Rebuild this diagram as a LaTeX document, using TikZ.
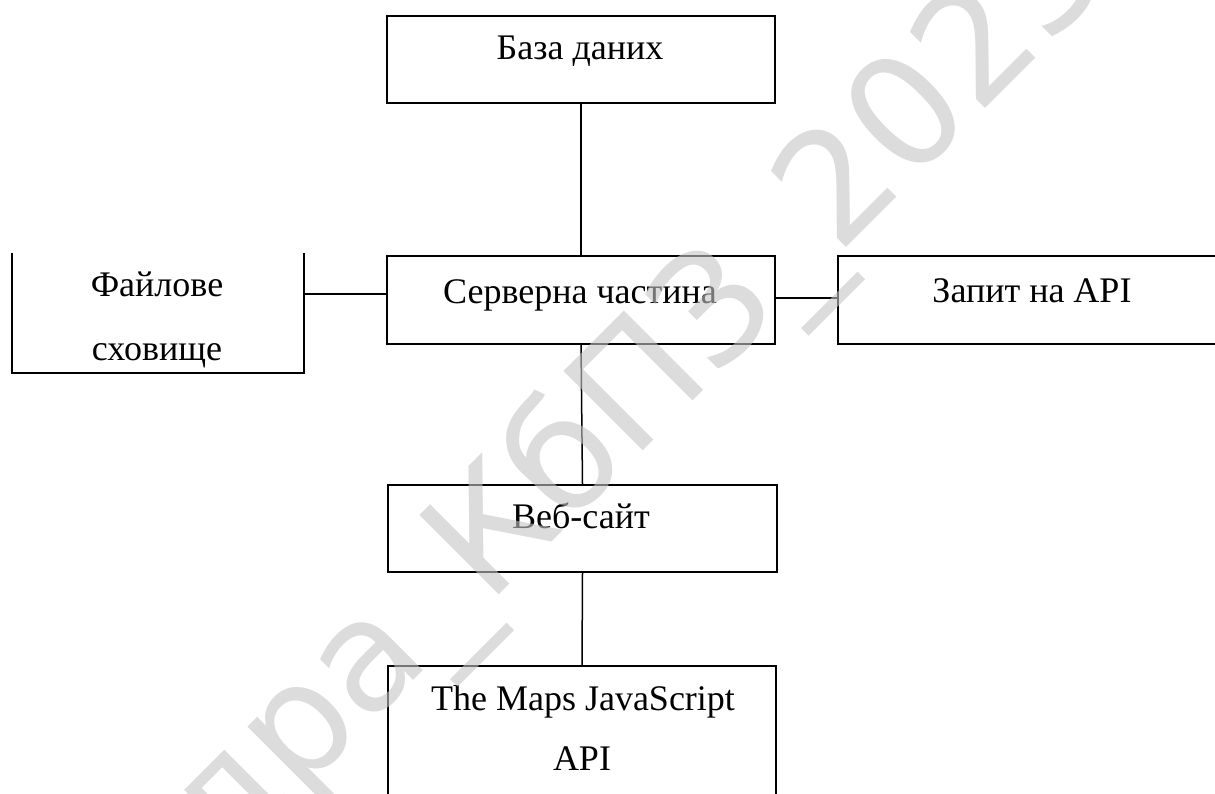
\documentclass[tikz,border=0pt]{standalone}
\usepackage{fontspec}
\setmainfont{LiberationSerif}[Extension=.ttf, UprightFont=*-Regular, Script=Cyrillic]
\newfontfamily\wmfont{DejaVu Sans}
\usetikzlibrary{calc}
\begin{document}
\begin{tikzpicture}[x=1pt, y=-1pt,
  box/.style={draw, line width=1.6pt, rectangle, inner sep=0pt},
  frame/.style={rectangle, inner sep=0pt},
  link/.style={line width=1.5pt},
  lbl/.style={font=\fontsize{36}{43}\selectfont, anchor=base, inner sep=0pt},
  wmark/.style={font=\wmfont\fontsize{154}{154}\selectfont, text=black!23,
                text opacity=0.6, rotate=45, anchor=base west, inner sep=0pt}]
\useasboundingbox (0,0) rectangle (1215,794);
\clip (0,0) rectangle (1215,794);

% boxes
\node[box, minimum width=388pt, minimum height=87pt] (db) at (581,59.5) {};
\node[box, minimum width=388pt, minimum height=88pt] (srv) at (581,300) {};
\node[frame, minimum width=292pt, minimum height=120pt] (fs) at (158,313) {};
\draw[link] (fs.north west) -- (fs.south west) -- (fs.south east) -- (fs.north east);
\node[box, minimum width=420pt, minimum height=88pt] (api) at (1048,300) {};
\node[box, minimum width=389pt, minimum height=87pt] (web) at (582.5,528.5) {};
\node[box, minimum width=388pt, minimum height=160pt] (maps) at (582,746) {};

% connectors
\coordinate (fsj) at ($(srv.west)+(0,-6)$);
\coordinate (apij) at ($(srv.east)+(0,-2)$);
\draw[link] (db.south) -- (srv.north);
\draw[link] (fsj) -- (fsj -| fs.east);
\draw[link] (apij) -- (apij -| api.west);
\draw[link] (srv.south) -- (web.north);
\draw[link] (web.south) -- (maps.north);

% labels
\node[lbl] (dbt) at (580,60) {База даних};
\node[lbl] (srvt) at (580,303) {Серверна частина};
\node[lbl] (apit) at (1032,302) {Запит на API};
\node[lbl] (fst1) at (157,297) {Файлове};
\node[lbl] (fst2) at (157,360) {сховище};
\node[lbl] (webt) at (581,528) {Веб-сайт};
\node[lbl] (mapst1) at (583,710) {The Maps JavaScript};
\node[lbl] (mapst2) at (582,770) {API};

% watermark
\node[wmark] (wm) at (488,606) {\llap{Кафедра\_}КбПЗ\_2023};
\end{tikzpicture}
\end{document}
